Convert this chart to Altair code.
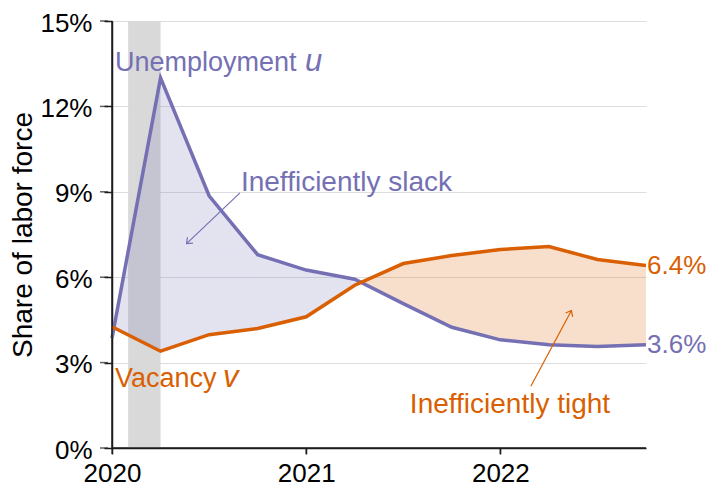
import math
import altair as alt
import pandas as pd

# ---------------- data ----------------
quarters = [2020.0, 2020.25, 2020.5, 2020.75, 2021.0, 2021.25,
            2021.5, 2021.75, 2022.0, 2022.25, 2022.5, 2022.75]
unemployment = [3.86, 13.0, 8.86, 6.79, 6.25, 5.93, 5.07, 4.24, 3.80, 3.63, 3.57, 3.63]
vacancy = [4.26, 3.40, 3.98, 4.20, 4.61, 5.72, 6.48, 6.76, 6.97, 7.08, 6.62, 6.41]

recession_start = [2020.083]
recession_end = [2020.25]

x_ticks = [2020, 2021, 2022]
y_ticks = [0, 3, 6, 9, 12, 15]

# annotations (data coordinates)
ann_main_text = ["Unemployment", "Vacancy"]
ann_main_x = [2020.015, 2020.015]
ann_main_y = [13.26, 2.16]
ann_slack_text = ["Inefficiently slack"]
ann_slack_x = [2020.664]
ann_slack_y = [9.02]
ann_tight_text = ["Inefficiently tight"]
ann_tight_x = [2021.534]
ann_tight_y = [1.22]

arrow_x0 = [2020.659, 2022.157]
arrow_y0 = [8.96, 2.17]
arrow_x1 = [2020.384, 2022.366]
arrow_y1 = [7.18, 4.83]
arrow_kind = ["slack", "tight"]

# ---------------- style ----------------
W, H = 534, 427
X_DOMAIN = [2020, 2022.75]
Y_DOMAIN = [0, 15]
PURPLE = "#7570b3"
ORANGE = "#d95f02"
AXIS_COLOR = "#1c1c1c"
FONT = "Liberation Sans"
ANN = 28
TICK = 26
X_TICK_LEN = 6
Y_TICK_LEN = 8
AXIS_W = 1.5

x_scale = alt.Scale(domain=X_DOMAIN, nice=False, zero=False)
y_scale = alt.Scale(domain=Y_DOMAIN, nice=False)

x_axis = alt.Axis(values=x_ticks, format="d", title=None, grid=False,
                  domain=True, ticks=True, tickSize=X_TICK_LEN,
                  domainColor=AXIS_COLOR, tickColor=AXIS_COLOR,
                  domainWidth=AXIS_W, tickWidth=AXIS_W,
                  labelPadding=6, labelFlush=False)
y_axis = alt.Axis(values=y_ticks, labelExpr="datum.value + '%'",
                  title="Share of labor force", grid=True,
                  domain=True, ticks=True, tickSize=Y_TICK_LEN,
                  domainColor=AXIS_COLOR, tickColor=AXIS_COLOR,
                  domainWidth=AXIS_W, tickWidth=AXIS_W,
                  labelPadding=12, labelOffset=2, titlePadding=2)

df = pd.DataFrame({"t": quarters, "u": unemployment, "v": vacancy})

# crossing point of the two series (for the two-coloured fill)
diff = [a - b for a, b in zip(unemployment, vacancy)]
t_cross = quarters[-1]
for i in range(len(diff) - 1):
    if diff[i] > 0 and diff[i + 1] <= 0:
        t_cross = quarters[i] + (quarters[i + 1] - quarters[i]) * diff[i] / (diff[i] - diff[i + 1])
        break
off = (t_cross - quarters[0]) / (quarters[-1] - quarters[0])

px_x = W / (X_DOMAIN[1] - X_DOMAIN[0])
px_y = H / (Y_DOMAIN[1] - Y_DOMAIN[0])


def arrow_angle(x0, y0, x1, y1):
    dxp = (x1 - x0) * px_x
    dyp = -(y1 - y0) * px_y
    return math.degrees(math.atan2(dxp, -dyp)) % 360


arrows = pd.DataFrame({
    "x0": arrow_x0, "y0": arrow_y0, "x1": arrow_x1, "y1": arrow_y1,
    "kind": arrow_kind,
    "angle": [arrow_angle(a, b, c, d) for a, b, c, d in zip(arrow_x0, arrow_y0, arrow_x1, arrow_y1)],
})

XA = lambda f: alt.X(f, type="quantitative", scale=x_scale, axis=x_axis)
YA = lambda f: alt.Y(f, type="quantitative", scale=y_scale, axis=y_axis)
X = lambda f: alt.X(f, type="quantitative", scale=x_scale, title=None)
Y = lambda f: alt.Y(f, type="quantitative", scale=y_scale, title="Share of labor force")

band = alt.Chart(pd.DataFrame({"s": recession_start, "e": recession_end})).mark_rect(
    color="#d9d9d9"
).encode(
    x=XA("s"), x2="e:Q", y=YA("lo"), y2="hi:Q",
).transform_calculate(lo="0", hi="15")

# axis lines and ticks drawn again as thin filled rectangles, through the shared scales
hw = AXIS_W / 2
y_dom = alt.Chart(pd.DataFrame({"a": [Y_DOMAIN[0]], "b": [Y_DOMAIN[1]]})).mark_rect(
    fill=AXIS_COLOR).encode(x=alt.value(-hw), x2=alt.value(hw), y=Y("a"), y2="b")
x_dom = alt.Chart(pd.DataFrame({"a": [X_DOMAIN[0]], "b": [X_DOMAIN[1]]})).mark_rect(
    fill=AXIS_COLOR).encode(y=alt.value(H - hw), y2=alt.value(H + hw), x=X("a"), x2="b")
y_tk = alt.Chart(pd.DataFrame({"tick": y_ticks})).mark_tick(
    color=AXIS_COLOR, orient="horizontal", thickness=AXIS_W, size=Y_TICK_LEN, xOffset=-Y_TICK_LEN / 2
).encode(y=Y("tick"), x=alt.value(-Y_TICK_LEN / 2))
x_tk = alt.Chart(pd.DataFrame({"tick": x_ticks})).mark_tick(
    color=AXIS_COLOR, orient="vertical", thickness=AXIS_W, size=X_TICK_LEN
).encode(x=X("tick"), y=alt.value(H + X_TICK_LEN / 2))

fill = alt.Chart(df).mark_area(
    fill=alt.Gradient(
        gradient="linear", x1=0, x2=1, y1=0, y2=0,
        stops=[alt.GradientStop(offset=0, color=PURPLE),
               alt.GradientStop(offset=off, color=PURPLE),
               alt.GradientStop(offset=off, color=ORANGE),
               alt.GradientStop(offset=1, color=ORANGE)]),
    fillOpacity=0.2,
).encode(x=X("t"), y=Y("u"), y2="v")

line_u = alt.Chart(df).mark_line(color=PURPLE, strokeWidth=3.5).encode(x=X("t"), y=Y("u"))
line_v = alt.Chart(df).mark_line(color=ORANGE, strokeWidth=3.5).encode(x=X("t"), y=Y("v"))

arrow_color = alt.Color("kind:N", scale=alt.Scale(domain=["slack", "tight"], range=[PURPLE, ORANGE]), legend=None)
shafts = alt.Chart(arrows).mark_rule(strokeWidth=1.2).encode(
    x=X("x0"), y=Y("y0"), x2="x1", y2="y1", color=arrow_color)
heads = alt.Chart(arrows).mark_point(
    shape="M-0.8,1L0,0L0.8,1", filled=False, strokeWidth=1.2, size=100, opacity=1
).encode(x=X("x1"), y=Y("y1"), angle=alt.Angle("angle:Q", scale=None), color=arrow_color)


def text_layer(frame, color, italic=False, dx=0, size=ANN, align="left", baseline="alphabetic"):
    kw = dict(font=FONT, fontSize=size, color=color, align=align, baseline=baseline, dx=dx)
    if italic:
        kw["fontStyle"] = "italic"
    return alt.Chart(frame).mark_text(**kw).encode(x=X("x"), y=Y("y"), text="text:N")


unemp_df = pd.DataFrame({"text": [ann_main_text[0]], "x": [ann_main_x[0]], "y": [ann_main_y[0]]})
vac_df = pd.DataFrame({"text": [ann_main_text[1]], "x": [ann_main_x[1]], "y": [ann_main_y[1]]})
t_unemp = text_layer(unemp_df, PURPLE, size=27)
t_u = text_layer(unemp_df.assign(text=["u"]), PURPLE, italic=True, dx=190, size=31)
t_vac = text_layer(vac_df, ORANGE, size=27)
t_v = text_layer(vac_df.assign(text=["v"]), ORANGE, italic=True, dx=108, size=31)
t_slack = text_layer(pd.DataFrame({"text": ann_slack_text, "x": ann_slack_x, "y": ann_slack_y}), PURPLE)
t_tight = text_layer(pd.DataFrame({"text": ann_tight_text, "x": ann_tight_x, "y": ann_tight_y}), ORANGE)

end_v = text_layer(pd.DataFrame({"text": [f"{vacancy[-1]:.1f}%"], "x": [quarters[-1]], "y": [vacancy[-1]]}),
                   ORANGE, dx=1, size=26, baseline="middle")
end_u = text_layer(pd.DataFrame({"text": [f"{unemployment[-1]:.1f}%"], "x": [quarters[-1]], "y": [unemployment[-1]]}),
                   PURPLE, dx=1, size=26, baseline="middle")

chart = alt.layer(
    band, fill, line_u, line_v, shafts, heads,
    y_dom, x_dom, y_tk, x_tk,
    t_unemp, t_u, t_vac, t_v, t_slack, t_tight, end_v, end_u,
).properties(
    width=W, height=H,
    autosize=alt.AutoSizeParams(type="none"),
    padding={"left": 104, "top": 13, "right": 60, "bottom": 39},
    background="white",
).configure(
    font=FONT
).configure_view(
    strokeWidth=0
).configure_axis(
    gridColor="#dddddd", gridWidth=1.2,
    labelFont=FONT, labelFontSize=TICK, labelColor="#000000",
    titleFont=FONT, titleFontSize=ANN, titleFontWeight="normal", titleColor="#000000",
)

chart.save("out.html", embed_options={"renderer": "svg", "actions": False})
